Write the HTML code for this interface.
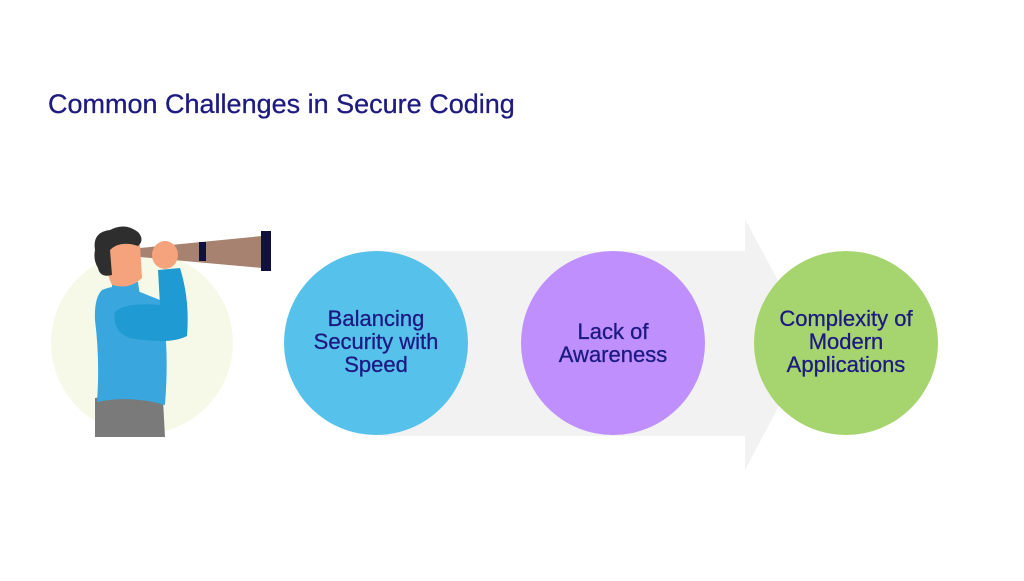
<!DOCTYPE html>
<html><head><style>
body{margin:0;width:1024px;height:576px;background:#fff;overflow:hidden;font-family:"Liberation Sans",sans-serif;}
</style></head><body>
<svg width="1024" height="576" viewBox="0 0 1024 576" xmlns="http://www.w3.org/2000/svg">
<text x="48" y="113" font-family="Liberation Sans, sans-serif" font-size="27" fill="#1e1b80" stroke="#1e1b80" stroke-width="0.3">Common Challenges in Secure Coding</text>
<polygon points="380,251 745,251 745,219 812,344 745,470 745,436 380,436" fill="#f2f2f2"/>
<circle cx="142" cy="343" r="91" fill="#f6f9e8"/>
<polygon points="140,248 262,236 262,268 140,257" fill="#a88270"/>
<rect x="199" y="242" width="7" height="19" fill="#10113f"/>
<rect x="261" y="231" width="10" height="40" fill="#10113f"/>
<path d="M95,398 Q130,392 163,400 L165,437 L95,437 Z" fill="#7a7a7a"/>
<path d="M102,290 Q120,282 140,292 L160,300 Q170,340 165,405 Q130,395 97,402 Q100,360 95,320 Q94,298 102,290 Z" fill="#39a7dd"/>
<path d="M158,270 L180,268 Q190,300 187,336 Q170,345 130,338 Q112,332 115,312 Q125,302 160,305 Z" fill="#1f9ad2"/>
<path d="M112,282 L138,282 L140,296 L112,296 Z" fill="#39a7dd"/>
<path d="M108,248 Q120,238 140,245 L142,278 Q130,290 112,285 Q104,270 108,248 Z" fill="#f4a37c"/>
<ellipse cx="165" cy="255" rx="13" ry="14" fill="#f4a37c"/>
<path d="M95,250 Q92,232 110,230 Q125,222 138,232 Q145,240 138,246 Q120,240 110,250 L112,275 Q100,278 98,268 Q93,260 95,250 Z" fill="#2e2e2e"/>
<circle cx="376" cy="343" r="92" fill="#56c1ea"/>
<circle cx="613" cy="343" r="92" fill="#bf8ffe"/>
<circle cx="846" cy="343" r="92" fill="#a6d46f"/>
<g font-family="Liberation Sans, sans-serif" font-size="22" fill="#1c1a82" stroke="#1c1a82" stroke-width="0.3" text-anchor="middle">
<text x="376" y="326">Balancing</text>
<text x="376" y="349">Security with</text>
<text x="376" y="372">Speed</text>
<text x="613" y="339">Lack of</text>
<text x="613" y="362">Awareness</text>
<text x="846" y="326">Complexity of</text>
<text x="846" y="349">Modern</text>
<text x="846" y="372">Applications</text>
</g>
</svg>
</body></html>
